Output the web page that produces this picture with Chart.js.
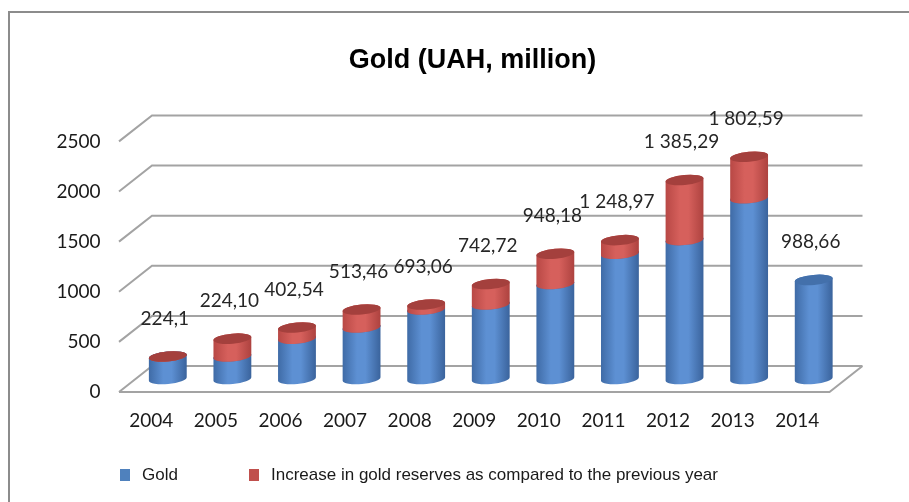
<!DOCTYPE html>
<html>
<head>
<meta charset="utf-8">
<title>Gold (UAH, million)</title>
<script src="https://cdn.jsdelivr.net/npm/chart.js@4.4.1/dist/chart.umd.min.js"></script>
<style>
  html, body { margin: 0; padding: 0; background: #fff; }
  .wrap { position: relative; width: 909px; height: 502px; overflow: hidden; }
  .frame { position: absolute; left: 8px; top: 11px; width: 960px; height: 560px;
           border-left: 2px solid #8c8c8c; border-top: 2px solid #8c8c8c; }
  #goldChart { position: absolute; left: 0; top: 0; }
  .legend { position: absolute; left: 0; top: 465px; width: 909px; height: 20px;
            font: 17px "Liberation Sans", Arial, sans-serif; color: #1a1a1a; }
  .legend .item { position: absolute; top: 0; display: flex; align-items: center; white-space: nowrap; }
  .legend .box { display: inline-block; width: 10px; height: 12px; margin-right: 12px; }
</style>
</head>
<body>
<div class="wrap">
  <div class="frame"></div>
  <canvas id="goldChart" width="909" height="502"></canvas>
  <div class="legend" id="legend"></div>
</div>

<script>
// years on the x axis
const years = ['2004', '2005', '2006', '2007', '2008', '2009', '2010', '2011', '2012', '2013', '2014'];
// gold stock, as printed above each column
const goldLabels = ['224,1', '224,10', '402,54', '513,46', '693,06', '742,72', '948,18', '1 248,97', '1 385,29', '1 802,59', '988,66'];
const gold = goldLabels.map(s => parseFloat(s.replace(/\s/g, '').replace(',', '.')));
// increase on the previous year (red part, none for 2014)
const increase = [0, 178.44, 110.92, 179.6, 49.66, 205.46, 300.79, 136.32, 600, 415, null];
const yTicks = [0, 500, 1000, 1500, 2000, 2500];

const seriesNames = ['Gold', 'Increase in gold reserves as compared to the previous year'];
const legendLeft = [120, 249];

// depth of the 3d box: half shift from the columns plane to front / back wall
const DX = 16.5, DY = 13;

const BLUE = { edge: '#3f6ba6', light: '#5d90d3', dark: '#3a639c', cap: '#4370ab', flat: '#4f81bd' };
const RED  = { edge: '#b84845', light: '#d6605c', dark: '#ad423f', cap: '#a4403d', flat: '#c0504d' };

function cylinder(ctx, x, top, bottom, w, c) {
  const rx = w / 2, ry = 5, tilt = -0.09;
  const grad = ctx.createLinearGradient(x - rx, 0, x + rx, 0);
  grad.addColorStop(0, c.edge);
  grad.addColorStop(0.38, c.light);
  grad.addColorStop(0.6, c.light);
  grad.addColorStop(1, c.dark);
  // side
  ctx.beginPath();
  ctx.ellipse(x, bottom, rx, ry, tilt, Math.PI, 0, true);
  ctx.ellipse(x, top, rx, ry, tilt, 0, Math.PI, true);
  ctx.closePath();
  ctx.fillStyle = grad;
  ctx.fill();
  // lid
  ctx.beginPath();
  ctx.ellipse(x, top, rx, ry, tilt, 0, Math.PI * 2);
  ctx.fillStyle = c.cap;
  ctx.fill();
}

const box3d = {
  id: 'box3d',
  beforeDatasetsDraw(chart) {
    const { ctx, chartArea: a, scales: { y } } = chart;
    ctx.save();
    ctx.strokeStyle = '#a3a3a3';
    ctx.lineWidth = 2;
    yTicks.forEach(v => {
      const py = y.getPixelForValue(v);
      ctx.beginPath();
      ctx.moveTo(a.left - DX, py + DY);
      ctx.lineTo(a.left + DX, py - DY);
      ctx.lineTo(a.right + DX, py - DY);
      if (v === 0) {
        ctx.moveTo(a.left - DX, py + DY);
        ctx.lineTo(a.right - DX, py + DY);
        ctx.lineTo(a.right + DX, py - DY);
      }
      ctx.stroke();
    });

    const g = chart.getDatasetMeta(0).data;
    const r = chart.getDatasetMeta(1).data;
    g.forEach((el, i) => {
      cylinder(ctx, el.x, el.y, el.base, el.width, BLUE);
      if (increase[i] != null) {
        const e = r[i];
        cylinder(ctx, e.x, e.y, e.base, e.width, RED);
      }
    });
    ctx.restore();
    return false; // columns are drawn above
  },
  afterDraw(chart) {
    const { ctx } = chart;
    const g = chart.getDatasetMeta(0).data;
    const r = chart.getDatasetMeta(1).data;
    ctx.save();
    ctx.font = '19px Lato';
    ctx.fillStyle = '#262626';
    ctx.textAlign = 'center';
    ctx.textBaseline = 'middle';
    g.forEach((el, i) => {
      const top = increase[i] != null ? r[i].y : el.y;
      ctx.fillText(goldLabels[i], el.x - 3, top - 38);
    });
    ctx.restore();
  }
};

const tickFont = { family: 'Lato', size: 19 };

const chart = new Chart(document.getElementById('goldChart'), {
  type: 'bar',
  data: {
    labels: years,
    datasets: [
      { label: seriesNames[0], data: gold, backgroundColor: BLUE.flat, barThickness: 38 },
      { label: seriesNames[1], data: increase, backgroundColor: RED.flat, barThickness: 38 }
    ]
  },
  options: {
    responsive: false,
    animation: false,
    layout: { padding: { left: 50, right: 14, top: 0, bottom: 0 } },
    plugins: {
      legend: { display: false },
      tooltip: { enabled: false },
      title: {
        display: true,
        text: 'Gold (UAH, million)',
        color: '#000',
        font: { family: 'Liberation Sans', size: 27, weight: 'bold' },
        padding: { top: 44, bottom: 52 }
      }
    },
    scales: {
      x: {
        stacked: true,
        grid: { display: false, drawTicks: false },
        border: { display: false },
        ticks: { font: tickFont, color: '#1a1a1a', labelOffset: -DX, padding: 30 },
        afterFit: s => { s.height = 123; }
      },
      y: {
        stacked: true,
        min: 0,
        max: 2500,
        grid: { display: false, drawTicks: false },
        border: { display: false },
        ticks: { font: tickFont, color: '#1a1a1a', labelOffset: DY, padding: 35, callback: v => String(v) },
        afterBuildTicks: s => { s.ticks = yTicks.map(v => ({ value: v })); },
        afterFit: s => { s.width = 85.5; }
      },
      // empty strip on the right, keeps the plot narrower than the title
      yRight: {
        position: 'right',
        grid: { display: false, drawTicks: false },
        border: { display: false },
        ticks: { display: false },
        afterFit: s => { s.width = 49; }
      }
    }
  },
  plugins: [box3d]
});

// legend below the plot
const legend = document.getElementById('legend');
chart.data.datasets.forEach((ds, i) => {
  const item = document.createElement('span');
  item.className = 'item';
  item.style.left = legendLeft[i] + 'px';
  const box = document.createElement('span');
  box.className = 'box';
  box.style.background = ds.backgroundColor;
  item.appendChild(box);
  item.appendChild(document.createTextNode(ds.label));
  legend.appendChild(item);
});
</script>
</body>
</html>
